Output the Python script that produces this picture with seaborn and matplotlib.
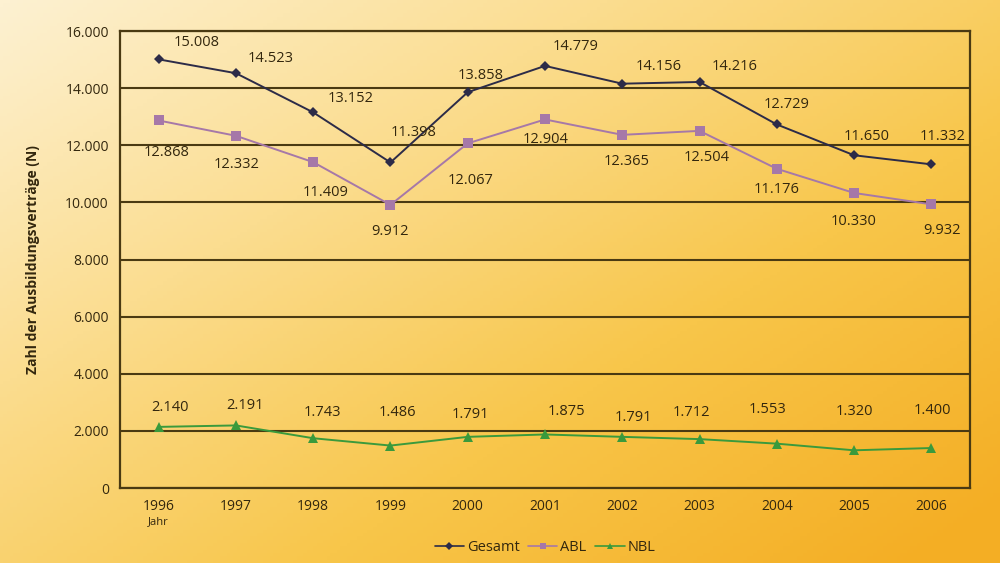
import numpy as np
import pandas as pd
import seaborn as sns
import matplotlib.pyplot as plt
from matplotlib.colors import LinearSegmentedColormap
from matplotlib.ticker import FuncFormatter

years = [1996, 1997, 1998, 1999, 2000, 2001, 2002, 2003, 2004, 2005, 2006]
gesamt = [15008, 14523, 13152, 11398, 13858, 14779, 14156, 14216, 12729, 11650, 11332]
abl = [12868, 12332, 11409, 9912, 12067, 12904, 12365, 12504, 11176, 10330, 9932]
nbl = [2140, 2191, 1743, 1486, 1791, 1875, 1791, 1712, 1553, 1320, 1400]

# label offsets in pixels (dx, dy)
off_gesamt = [(38, 17), (35, 15), (37, 14), (23, 30), (13, 17), (31, 19), (36, 17), (35, 15), (10, 20), (13, 19), (11, 28)]
off_abl = [(8, -32), (1, -29), (12, -30), (0, -27), (3, -37), (1, -20), (4, -27), (7, -27), (0, -21), (0, -29), (11, -26)]
off_nbl = [(11, 19), (9, 20), (9, 26), (7, 33), (3, 22), (21, 23), (11, 19), (-8, 27), (-9, 34), (0, 39), (1, 38)]

def de_fmt(v):
    return f"{int(v):,}".replace(",", ".")

df = pd.DataFrame({
    "Jahr": list(range(len(years))) * 3,
    "Wert": gesamt + abl + nbl,
    "Reihe": ["Gesamt"] * 11 + ["ABL"] * 11 + ["NBL"] * 11,
})

sns.set_style("white")
plt.rcParams["font.family"] = ["Open Sans", "DejaVu Sans"]
txt = "#33270e"

fig = plt.figure(figsize=(10, 5.63), dpi=100)

# gradient background
bg = fig.add_axes([0, 0, 1, 1], zorder=-10)
xx, yy = np.meshgrid(np.linspace(0, 1, 300), np.linspace(0, 1, 170))
grad = 0.62 * xx + 0.55 * yy
cmap = LinearSegmentedColormap.from_list("bgc", ["#fdf1d2", "#fbdd90", "#f8c64a", "#f4ae24"])
bg.imshow(grad, cmap=cmap, aspect="auto", extent=[0, 1, 0, 1], origin="upper", vmin=0, vmax=1.12)
bg.axis("off")

ax = fig.add_axes([0.12, 0.1332, 0.85, 0.8117])
ax.set_facecolor("none")

colors = {"Gesamt": "#2c2b48", "ABL": "#a678a8", "NBL": "#3a9a3c"}
markers = {"Gesamt": "D", "ABL": "s", "NBL": "^"}
sns.lineplot(data=df, x="Jahr", y="Wert", hue="Reihe", style="Reihe",
             palette=colors, markers=markers, dashes=False, markersize=7,
             markeredgewidth=0, linewidth=1.4, ax=ax, legend=False, zorder=3)
for ln in ax.lines:
    if ln.get_marker() == "D":
        ln.set_markersize(5.5)

for series, offs in [(gesamt, off_gesamt), (abl, off_abl), (nbl, off_nbl)]:
    for i, v in enumerate(series):
        ax.annotate(de_fmt(v), (i, v), xytext=offs[i], textcoords="offset pixels",
                    ha="center", va="center", fontsize=10.5, color=txt)

ax.set_xlim(-0.5, 10.5)
ax.set_ylim(0, 16000)
ax.set_yticks(range(0, 16001, 2000))
ax.yaxis.set_major_formatter(FuncFormatter(lambda v, p: de_fmt(v)))
ax.set_xticks(range(len(years)))
ax.set_xticklabels([str(y) for y in years])
ax.tick_params(axis="both", labelsize=10, colors=txt, length=0, pad=8)
ax.grid(axis="y", color="#4a3a12", linewidth=1.5)
ax.grid(axis="x", visible=False)
for s in ax.spines.values():
    s.set_color("#4a3a12")
    s.set_linewidth(1.6)
ax.set_xlabel("")
ax.set_ylabel("Zahl der Ausbildungsverträge (N)", fontsize=10, fontweight="bold", color=txt, labelpad=18)
ax.text(0, -0.062, "Jahr", transform=ax.get_xaxis_transform(), ha="center", va="top",
        fontsize=8, color=txt)

handles = [plt.Line2D([], [], color=colors[k], marker=markers[k], markersize=4, markeredgewidth=0,
                      linewidth=1.2) for k in ["Gesamt", "ABL", "NBL"]]
fig.legend(handles, ["Gesamt", "ABL", "NBL"], loc="center", bbox_to_anchor=(0.545, 0.027),
           ncol=3, frameon=False, fontsize=10.5, handlelength=2.0, handletextpad=0.2,
           columnspacing=0.6, labelcolor=txt)

fig.savefig("out.png", dpi=100)
